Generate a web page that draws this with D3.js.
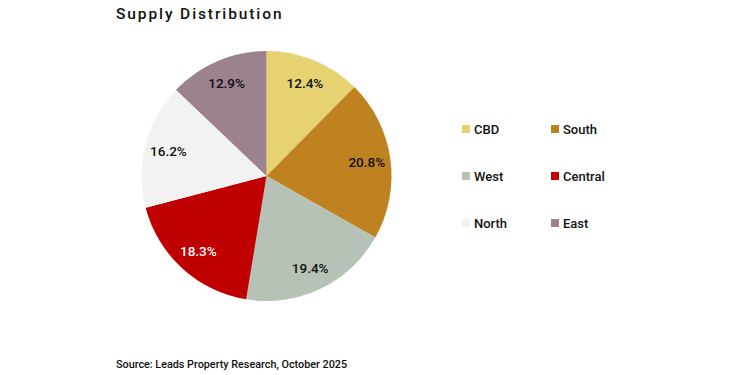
<!DOCTYPE html>
<html>
<head>
<meta charset="utf-8">
<script src="https://cdn.jsdelivr.net/npm/d3@7"></script>
<style>
  body { margin: 0; background: #fff; }
  svg { display: block; font-family: Roboto, "DejaVu Sans", sans-serif; }
</style>
</head>
<body>
<svg id="chart" width="750" height="375"></svg>
<script>
const categories = ['CBD', 'South', 'West', 'Central', 'North', 'East'];
const shares = [12.4, 20.8, 19.4, 18.3, 16.2, 12.9];
const colors = ['#E6D270', '#BF8220', '#B6C2B6', '#C00000', '#F2F2F2', '#9C818E'];
const labelColors = ['#111', '#111', '#111', '#fff', '#111', '#111'];

const svg = d3.select('#chart');
const cx = 266.5, cy = 176, r = 125;

svg.append('text')
  .attr('x', 116).attr('y', 19)
  .attr('font-size', 15.5).attr('font-weight', 500)
  .attr('letter-spacing', 1.9)
  .attr('fill', '#111')
  .text('Supply Distribution');

const data = categories.map((c, i) => ({ name: c, value: shares[i], color: colors[i], lc: labelColors[i] }));
const pie = d3.pie().value(d => d.value).sort(null);
const arc = d3.arc().innerRadius(0).outerRadius(r);
const labelArc = d3.arc().innerRadius(r * 0.81).outerRadius(r * 0.81);

const g = svg.append('g').attr('transform', `translate(${cx},${cy})`);
const arcs = pie(data);
g.selectAll('path')
  .data(arcs)
  .enter()
  .append('path')
  .attr('d', arc)
  .attr('fill', d => d.data.color);

g.selectAll('text')
  .data(arcs)
  .enter()
  .append('text')
  .attr('transform', d => `translate(${labelArc.centroid(d)})`)
  .attr('text-anchor', 'middle')
  .attr('dy', '0.4em')
  .attr('font-size', 13.5).attr('font-weight', 500)
  .attr('fill', d => d.data.lc)
  .text(d => d.data.value.toFixed(1) + '%');

// legend: 2 columns x 3 rows
const legend = svg.append('g');
const items = legend.selectAll('g')
  .data(data)
  .enter()
  .append('g')
  .attr('transform', (d, i) => `translate(${462 + (i % 2) * 89},${129 + Math.floor(i / 2) * 47})`);
items.append('rect')
  .attr('x', 0).attr('y', -4)
  .attr('width', 8).attr('height', 8)
  .attr('fill', d => d.color);
items.append('text')
  .attr('x', 12).attr('dy', '0.36em')
  .attr('font-size', 13).attr('font-weight', 500)
  .attr('fill', '#111')
  .text(d => d.name);

svg.append('text')
  .attr('x', 116).attr('y', 368)
  .attr('font-size', 10.8).attr('font-weight', 500)
  .attr('fill', '#111')
  .text('Source: Leads Property Research, October 2025');
</script>
</body>
</html>
